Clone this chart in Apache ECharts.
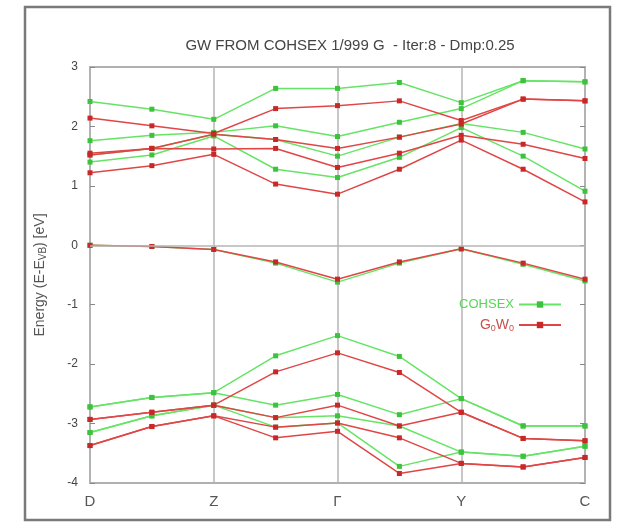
<!DOCTYPE html>
<html><head><meta charset="utf-8">
<script src="https://cdn.jsdelivr.net/npm/echarts@6/dist/echarts.min.js"></script>
<style>html,body{margin:0;padding:0;background:#fff}#c{width:619px;height:523px}</style>
</head><body><div id="c"></div>
<script>
// k-point index along the path D - Z - Γ - Y - C (9 points)
const kIndex = [0, 1, 2, 3, 4, 5, 6, 7, 8];
const tickLabels = ['D', 'Z', 'Γ', 'Y', 'C'];
const yTicks = [3, 2, 1, 0, -1, -2, -3, -4];

// COHSEX (green)
const cohsexC4 = [2.42, 2.29, 2.12, 2.64, 2.64, 2.74, 2.40, 2.77, 2.75];
const cohsexC3 = [1.76, 1.85, 1.90, 2.01, 1.83, 2.07, 2.30, 2.77, 2.75];
const cohsexC2 = [1.52, 1.63, 1.87, 1.78, 1.50, 1.82, 2.05, 1.90, 1.62];
const cohsexC1 = [1.40, 1.52, 1.84, 1.28, 1.14, 1.48, 1.98, 1.50, 0.91];
const cohsexV0 = [0.00, -0.02, -0.07, -0.30, -0.62, -0.30, -0.06, -0.32, -0.60];
const cohsexV1 = [-2.72, -2.56, -2.48, -1.86, -1.52, -1.87, -2.58, -3.04, -3.04];
const cohsexV2 = [-2.72, -2.56, -2.48, -2.69, -2.51, -2.85, -2.58, -3.04, -3.04];
const cohsexV3 = [-3.15, -2.87, -2.69, -2.90, -2.87, -3.04, -3.48, -3.55, -3.38];
const cohsexV4 = [-3.15, -2.87, -2.69, -3.06, -2.99, -3.72, -3.48, -3.55, -3.38];

// G0W0 (red)
const g0w0C4 = [2.14, 2.01, 1.88, 2.30, 2.35, 2.43, 2.10, 2.46, 2.43];
const g0w0C3 = [1.55, 1.63, 1.87, 1.78, 1.63, 1.82, 2.04, 2.46, 2.43];
const g0w0C2 = [1.52, 1.63, 1.62, 1.63, 1.31, 1.55, 1.85, 1.70, 1.46];
const g0w0C1 = [1.22, 1.34, 1.53, 1.03, 0.86, 1.28, 1.77, 1.28, 0.73];
const g0w0V0 = [0.00, -0.02, -0.07, -0.28, -0.57, -0.28, -0.06, -0.30, -0.57];
const g0w0V1 = [-2.93, -2.81, -2.69, -2.13, -1.81, -2.14, -2.81, -3.25, -3.29];
const g0w0V2 = [-2.93, -2.81, -2.69, -2.90, -2.69, -3.04, -2.81, -3.25, -3.29];
const g0w0V3 = [-3.37, -3.05, -2.87, -3.06, -2.99, -3.24, -3.67, -3.73, -3.57];
const g0w0V4 = [-3.37, -3.05, -2.87, -3.24, -3.13, -3.84, -3.67, -3.73, -3.57];

const GREEN = '#66e466', GREEN_PT = '#3cc23c';
const RED = '#e04646', RED_PT = '#c82828';
const FONT = 'Liberation Sans';

function band(name, arr, color, ptColor, extra) {
  return Object.assign({
    name: name, type: 'line', data: arr.map((v, i) => [kIndex[i], v]),
    symbol: 'rect', symbolSize: 5, showSymbol: true,
    lineStyle: { color: color, width: 1.5 },
    itemStyle: { color: ptColor },
    emphasis: { disabled: true }, silent: true, animation: false, z: 3
  }, extra || {});
}

const series = [];
[cohsexC4, cohsexC3, cohsexC2, cohsexC1, cohsexV0, cohsexV1, cohsexV2, cohsexV3, cohsexV4]
  .forEach(a => series.push(band('COHSEX', a, GREEN, GREEN_PT)));
[g0w0C4, g0w0C3, g0w0C2, g0w0C1, g0w0V0, g0w0V1, g0w0V2, g0w0V3, g0w0V4]
  .forEach(a => series.push(band('G0W0', a, RED, RED_PT)));
series[0].markLine = {
  silent: true, symbol: 'none', label: { show: false },
  lineStyle: { color: '#b4b4b4', width: 1.5, type: 'solid' },
  data: [{ yAxis: 0 }], animation: false
};

const chart = echarts.init(document.getElementById('c'), null, { renderer: 'canvas' });
chart.setOption({
  backgroundColor: '#fff',
  animation: false,
  title: {
    text: 'GW FROM COHSEX 1/999 G  - Iter:8 - Dmp:0.25',
    left: 345, top: 33, textAlign: 'center',
    textStyle: { fontFamily: FONT, fontSize: 15, fontWeight: 'normal', color: '#444' }
  },
  graphic: [{
    type: 'rect', shape: { x: 25, y: 7, width: 585, height: 513 },
    style: { fill: 'none', stroke: '#7a7a7a', lineWidth: 2.5 }, silent: true
  }],
  legend: [{
    data: ['COHSEX'], orient: 'vertical', right: 52, top: 293, align: 'right',
    itemWidth: 42, itemHeight: 8, itemGap: 8,
    textStyle: { fontFamily: FONT, fontSize: 13, color: '#55d855' },
    selectedMode: false
  }, {
    data: ['G0W0'], orient: 'vertical', right: 52, top: 313, align: 'right',
    itemWidth: 42, itemHeight: 8,
    formatter: () => '{a|G}{s|0}{a|W}{s|0}',
    textStyle: {
      fontFamily: FONT, fontSize: 13, color: '#c85050',
      rich: {
        a: { fontFamily: FONT, fontSize: 14, color: '#c85050' },
        s: { fontFamily: FONT, fontSize: 9, color: '#c85050', verticalAlign: 'bottom', padding: [7, 0, 0, 0] }
      }
    },
    selectedMode: false
  }],
  grid: {
    left: 90, right: 34, top: 67, bottom: 40, show: true,
    borderColor: '#b0b0b0', borderWidth: 2, backgroundColor: 'transparent'
  },
  xAxis: {
    type: 'value', min: 0, max: 8, interval: 2,
    axisLine: { show: false }, axisTick: { show: false },
    splitLine: { show: true, lineStyle: { color: '#b4b4b4', width: 1.5 } },
    axisLabel: {
      margin: 11, fontFamily: FONT, fontSize: 15, color: '#555',
      formatter: v => tickLabels[v / 2]
    }
  },
  yAxis: [{
    type: 'value', min: -4, max: 3, interval: 1,
    axisLine: { show: false },
    axisTick: { show: true, inside: true, length: 5, lineStyle: { color: '#888', width: 1 } },
    splitLine: { show: false },
    axisLabel: { margin: 12, fontFamily: FONT, fontSize: 12, color: '#444',
      formatter: v => yTicks.indexOf(v) >= 0 ? String(v) : '' },
    name: '{a|Energy (E-E}{s|VB}{a|) [eV]}',
    nameLocation: 'middle', nameGap: 42, nameRotate: 90,
    nameTextStyle: {
      rich: {
        a: { fontFamily: FONT, fontSize: 14, color: '#555' },
        s: { fontFamily: FONT, fontSize: 10, color: '#555', verticalAlign: 'bottom', padding: [6, 0, 0, 0] }
      }
    }
  }, {
    type: 'value', min: -4, max: 3, interval: 1, position: 'right',
    axisLine: { show: false },
    axisTick: { show: true, inside: true, length: 5, lineStyle: { color: '#888', width: 1 } },
    splitLine: { show: false }, axisLabel: { show: false }
  }],
  series: series
});
</script></body></html>
